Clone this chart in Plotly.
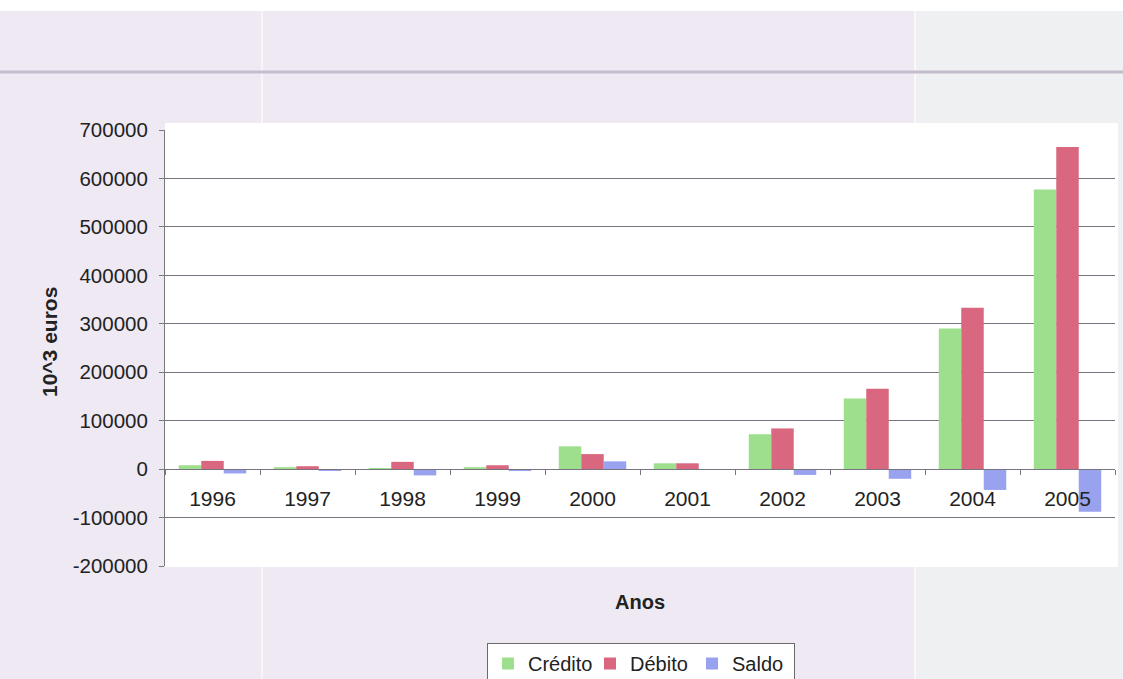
import plotly.graph_objects as go

# Balance figures, thousands of euros
anos = ["1996", "1997", "1998", "1999", "2000", "2001", "2002", "2003", "2004", "2005"]
credito = [8000, 4000, 2000, 4000, 47000, 12000, 72000, 146000, 290000, 577000]
debito = [17000, 6000, 15000, 8000, 31000, 12000, 84000, 166000, 333000, 665000]
saldo = [-9000, -2000, -13000, -4000, 16000, -1000, -12000, -20000, -43000, -88000]

y_ticks = [-200000, -100000, 0, 100000, 200000, 300000, 400000, 500000, 600000, 700000]

W, H = 1123, 679
ML, MR, MT, MB = 165, 8, 130, 113
PW, PH = W - ML - MR, H - MT - MB


def px_x(x):
    return (x - ML) / PW


def px_y(y):
    return (H - MB - y) / PH


FONT = "Liberation Sans, Arial, sans-serif"
TXT = "#222222"
GRID = "#77737f"

fig = go.Figure()
fig.add_trace(go.Bar(name="Crédito", x=anos, y=credito, marker=dict(color="#9ddf8c", line=dict(width=0))))
fig.add_trace(go.Bar(name="Débito", x=anos, y=debito, marker=dict(color="#d9677f", line=dict(width=0))))
fig.add_trace(go.Bar(name="Saldo", x=anos, y=saldo, marker=dict(color="#98a2ee", line=dict(width=0))))

shapes = [
    # scanned page tint
    dict(type="rect", xref="paper", yref="paper", x0=px_x(0), x1=px_x(W), y0=px_y(H), y1=px_y(11),
         fillcolor="#efe9f4", line=dict(width=0), layer="below"),
    dict(type="rect", xref="paper", yref="paper", x0=px_x(916), x1=px_x(W), y0=px_y(H), y1=px_y(11),
         fillcolor="#eef0f1", line=dict(width=0), layer="below"),
    dict(type="line", xref="paper", yref="paper", x0=px_x(262), x1=px_x(262), y0=px_y(H), y1=px_y(11),
         line=dict(color="#f7f4fa", width=2), layer="below"),
    dict(type="line", xref="paper", yref="paper", x0=px_x(915), x1=px_x(915), y0=px_y(H), y1=px_y(11),
         line=dict(color="#f8f8fb", width=2), layer="below"),
    dict(type="line", xref="paper", yref="paper", x0=px_x(0), x1=px_x(W), y0=px_y(72), y1=px_y(72),
         line=dict(color="#c2bccd", width=3), layer="below"),
    # white chart area
    dict(type="rect", xref="paper", yref="paper", x0=px_x(165), x1=px_x(1118), y0=px_y(567), y1=px_y(123),
         fillcolor="white", line=dict(width=0), layer="below"),
]

fig.update_layout(
    width=W, height=H,
    margin=dict(l=ML, r=MR, t=MT, b=MB, pad=0, autoexpand=False),
    paper_bgcolor="white",
    plot_bgcolor="rgba(0,0,0,0)",
    barmode="group",
    bargap=0.29,
    bargroupgap=0,
    shapes=shapes,
    font=dict(family=FONT, color=TXT, size=21),
    showlegend=True,
    legend=dict(
        orientation="h",
        x=px_x(641), xanchor="center",
        y=px_y(643), yanchor="top",
        bgcolor="white",
        bordercolor="#6a6a6a", borderwidth=1,
        font=dict(family=FONT, size=20, color=TXT),
        traceorder="normal",
        itemwidth=30,
        entrywidth=57,
        entrywidthmode="pixels",
        tracegroupgap=0,
    ),
    annotations=[
        dict(text="<b>Anos</b>", xref="paper", yref="paper", x=px_x(640), y=px_y(602),
             xanchor="center", yanchor="middle", showarrow=False,
             font=dict(family=FONT, size=20, color=TXT)),
        dict(text="<b>10^3 euros</b>", xref="paper", yref="paper", x=px_x(49), y=px_y(342),
             xanchor="center", yanchor="middle", showarrow=False, textangle=-90,
             font=dict(family=FONT, size=21, color=TXT)),
    ],
)

fig.update_xaxes(
    type="category",
    anchor="free",
    position=(0 - y_ticks[0]) / (y_ticks[-1] - y_ticks[0]),
    showline=True, linecolor=GRID, linewidth=1,
    showgrid=False, zeroline=False,
    ticks="outside", ticklen=5, tickcolor=GRID, tickwidth=1,
    tickson="boundaries",
    ticklabelstandoff=11,
    tickfont=dict(family=FONT, size=21, color=TXT),
)

fig.update_yaxes(
    range=[y_ticks[0], y_ticks[-1]],
    tickvals=y_ticks,
    ticktext=[str(v) for v in y_ticks],
    showline=True, linecolor="#7a7a7a", linewidth=1,
    showgrid=True, gridcolor=GRID, gridwidth=1,
    zeroline=False,
    ticks="outside", ticklen=5, tickcolor="#7a7a7a",
    ticklabelstandoff=7,
    tickfont=dict(family=FONT, size=20.5, color=TXT),
)

fig.write_html("out.html")
